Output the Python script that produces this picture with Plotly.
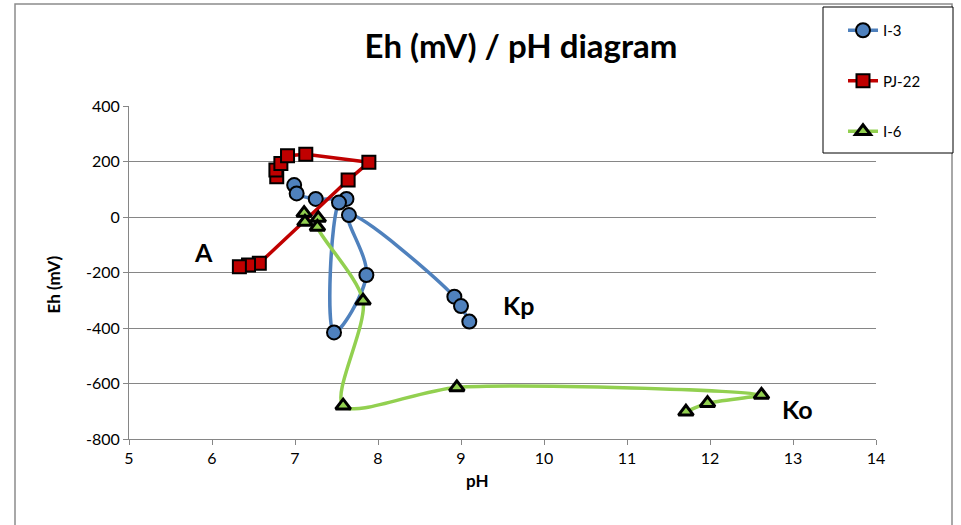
import plotly.graph_objects as go

# Eh / pH readings for each sampling point
i3_ph = [6.99, 7.02, 7.25, 7.62, 7.53, 7.47, 7.86, 7.65, 8.92, 9.00, 9.10]
i3_eh = [115, 85, 65, 65, 52, -416, -209, 7, -287, -321, -377]

pj22_ph = [6.78, 6.77, 6.83, 6.91, 7.13, 7.89, 7.64, 6.57, 6.44, 6.33]
pj22_eh = [145, 169, 193, 221, 226, 197, 133, -167, -173, -179]

i6_ph = [7.11, 7.12, 7.28, 7.27, 7.82, 7.58, 8.95, 12.62, 11.97, 11.71]
i6_eh = [14, -18, -4, -36, -302, -680, -614, -641, -671, -702]

# zone labels (text, pH, Eh)
zone_labels = [("A", 5.90, -126), ("Kp", 9.69, -317), ("Ko", 13.05, -692)]

x_ticks = list(range(5, 15))
y_ticks = list(range(-800, 401, 200))
y_ticktext = [str(v) for v in y_ticks]  # plain hyphen for negatives

FONT = "Lato"
W, H = 961, 525
L, R, T, B = 129, 85, 106, 86
PW, PH = W - L - R, H - T - B


def px_x(p):
    return (p - L) / PW


def px_y(p):
    return (H - B - p) / PH


fig = go.Figure()

fig.add_trace(go.Scatter(
    x=i3_ph, y=i3_eh, name="I-3", mode="lines+markers",
    line=dict(color="#4F81BD", width=3.5, shape="spline", smoothing=1.0),
    marker=dict(symbol="circle", size=14, color="#4F81BD",
                line=dict(color="black", width=2)),
    legendgroup="a",
))
fig.add_trace(go.Scatter(
    x=pj22_ph, y=pj22_eh, name="PJ-22", mode="lines+markers",
    line=dict(color="#C00000", width=3.5),
    marker=dict(symbol="square", size=13, color="#C00000",
                line=dict(color="black", width=2)),
    legendgroup="b",
))
fig.add_trace(go.Scatter(
    x=i6_ph, y=i6_eh, name="I-6", mode="lines+markers",
    line=dict(color="#92D050", width=3.5, shape="spline", smoothing=0.8),
    marker=dict(symbol="triangle-up", size=13, color="#92D050",
                line=dict(color="black", width=3)),
    legendgroup="c",
))

annotations = [
    dict(x=px, y=py, xref="x", yref="y", text=f"<b>{t}</b>", showarrow=False,
         font=dict(family=FONT, size=25, color="black"))
    for t, px, py in zone_labels
]
annotations += [
    dict(x=px_x(40), y=px_y(285), xref="paper", yref="paper",
         text="<b>Eh (mV)</b>", textangle=-90, showarrow=False,
         font=dict(family=FONT, size=17, color="black")),
    dict(x=px_x(477), y=px_y(493), xref="paper", yref="paper",
         text="<b>pH</b>", showarrow=False,
         font=dict(family=FONT, size=17, color="black")),
]

shapes = [
    # outer chart frame
    dict(type="rect", xref="paper", yref="paper",
         x0=px_x(15), x1=px_x(952), y0=px_y(600), y1=px_y(4),
         line=dict(color="#8C8C8C", width=1.5), fillcolor="rgba(0,0,0,0)",
         layer="below"),
    # legend box
    dict(type="rect", xref="paper", yref="paper",
         x0=px_x(823), x1=px_x(953), y0=px_y(153), y1=px_y(7),
         line=dict(color="black", width=1), fillcolor="white", layer="above"),
]

axis_common = dict(
    showline=True, linecolor="#868686", linewidth=1,
    ticks="outside", ticklen=5, tickcolor="#868686",
    tickfont=dict(family=FONT, size=16, color="black"),
    zeroline=False,
)

fig.update_layout(
    width=W, height=H,
    margin=dict(l=L, r=R, t=T, b=B),
    paper_bgcolor="white", plot_bgcolor="white",
    title=dict(text="<b>Eh (mV) / pH diagram</b>", x=521 / W, xanchor="center",
               y=1 - 46 / H, yanchor="middle",
               font=dict(family=FONT, size=33, color="black")),
    xaxis=dict(range=[5, 14], tickvals=x_ticks, showgrid=False, **axis_common),
    yaxis=dict(range=[-800, 400], tickvals=y_ticks, ticktext=y_ticktext,
               showgrid=True, gridcolor="#868686", gridwidth=1, **axis_common),
    legend=dict(x=px_x(843), xanchor="left", y=px_y(14), yanchor="top",
                bgcolor="rgba(0,0,0,0)", borderwidth=0,
                font=dict(family=FONT, size=15, color="black"),
                tracegroupgap=28),
    annotations=annotations,
    shapes=shapes,
    showlegend=True,
)

fig.write_html("out.html")
